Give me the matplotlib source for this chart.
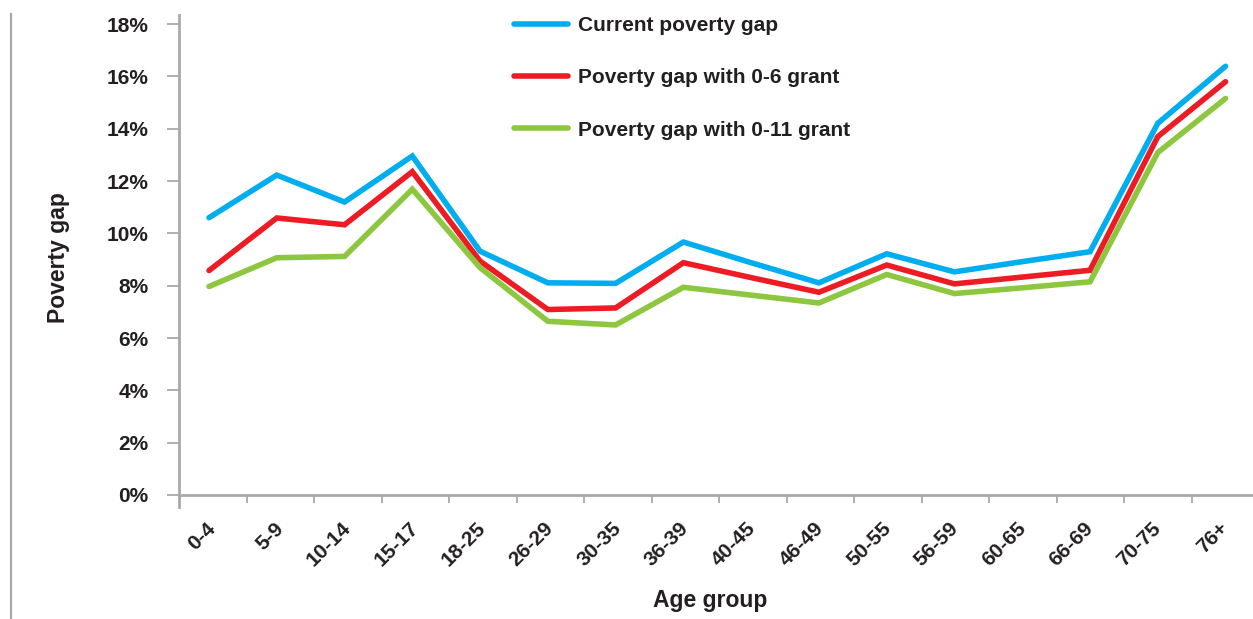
import matplotlib
matplotlib.use("Agg")
import matplotlib.pyplot as plt
import matplotlib.transforms as mtransforms
from matplotlib.lines import Line2D

# Age groups and poverty gap (%) per scenario
age_groups = ["0-4", "5-9", "10-14", "15-17", "18-25", "26-29", "30-35", "36-39",
              "40-45", "46-49", "50-55", "56-59", "60-65", "66-69", "70-75", "76+"]
current_gap = [10.60, 12.23, 11.20, 12.96, 9.32, 8.11, 8.09, 9.67,
               8.88, 8.11, 9.22, 8.53, 8.92, 9.30, 14.21, 16.39]
gap_grant_0_6 = [8.58, 10.59, 10.33, 12.36, 8.94, 7.09, 7.15, 8.88,
                 8.31, 7.75, 8.79, 8.07, 8.33, 8.59, 13.70, 15.80]
gap_grant_0_11 = [7.97, 9.07, 9.12, 11.69, 8.69, 6.64, 6.50, 7.94,
                  7.64, 7.34, 8.43, 7.70, 7.92, 8.15, 13.09, 15.16]
y_ticks = [0, 2, 4, 6, 8, 10, 12, 14, 16, 18]
series_labels = ["Current poverty gap", "Poverty gap with 0-6 grant",
                 "Poverty gap with 0-11 grant"]
series_colors = ["#00AEEF", "#ED1C24", "#8DC63F"]

TEXT = "#231F20"
GRID = "#A7A9AC"
BOLD = ["Liberation Sans", "DejaVu Sans"]

W, H = 1253, 619
fig = plt.figure(figsize=(W / 100, H / 100), dpi=100)
fig.patch.set_facecolor("white")

# axes extends slightly past the right edge of the canvas
ax = fig.add_axes([179.3 / W, 112 / H, 1080 / W, 492 / H])
ax.set_facecolor("white")

n = len(age_groups)
xs = [i * 1.004 + 0.44 for i in range(n)]
for vals, lab, col in zip([current_gap, gap_grant_0_6, gap_grant_0_11],
                          series_labels, series_colors):
    ax.plot(xs, vals, color=col, lw=4.0, solid_capstyle="round",
            solid_joinstyle="miter", label=lab, clip_on=False)

ax.set_xlim(0, n)
ax.set_ylim(-0.46, 18.35)

for s in ["top", "right"]:
    ax.spines[s].set_visible(False)
ax.spines["bottom"].set_position(("data", 0))
for s in ["left", "bottom"]:
    ax.spines[s].set_color(GRID)
    ax.spines[s].set_linewidth(2.0)

# y axis
ax.set_yticks(y_ticks)
ax.set_yticklabels([f"{v}%" for v in y_ticks], fontfamily=BOLD,
                   fontweight="bold", fontsize=15, color=TEXT)
ax.tick_params(axis="y", length=9, width=1.3, color=GRID, pad=13.3)

# x axis: tick marks at category boundaries, labels at centres
ax.set_xticks(range(1, n + 1))
ax.set_xticklabels([])
ax.tick_params(axis="x", which="major", length=6, width=1.3, color=GRID)
ax.set_xticks([i + 0.5 for i in range(n)], minor=True)
ax.set_xticklabels(age_groups, minor=True, rotation=45, ha="right",
                   va="center", rotation_mode="anchor",
                   fontfamily=BOLD, fontweight="bold", fontsize=15, color=TEXT)
ax.tick_params(axis="x", which="minor", length=0, pad=22)
offset = mtransforms.ScaledTranslation(0, 0, fig.dpi_scale_trans)
for lbl in ax.xaxis.get_minorticklabels():
    lbl.set_transform(lbl.get_transform() + offset)

fig.text(710 / W, 1 - 600 / H, "Age group", ha="center", va="center",
         fontfamily=BOLD, fontweight="bold", fontsize=16.5, color=TEXT)
fig.text(58 / W, 1 - 258 / H, "Poverty gap", ha="center", va="center",
         rotation=90, fontfamily=BOLD, fontweight="bold", fontsize=16.5,
         color=TEXT)

leg = ax.legend(loc="upper left", bbox_to_anchor=(514 / W, 1 - 16 / H),
                bbox_transform=fig.transFigure, frameon=False,
                prop={"family": BOLD, "weight": "bold", "size": 15},
                handlelength=2.6, handletextpad=0.45, labelspacing=1.6,
                borderpad=0, borderaxespad=0)
for t in leg.get_texts():
    t.set_color(TEXT)
for h in leg.legend_handles:
    h.set_linewidth(4.0)
    h.set_solid_capstyle("round")

# thin frame line at the left edge
fig.add_artist(Line2D([11 / W, 11 / W], [0, 1 - 14 / H],
                      transform=fig.transFigure, color=GRID, lw=1.6))

fig.savefig("out.png", dpi=100, facecolor="white")
